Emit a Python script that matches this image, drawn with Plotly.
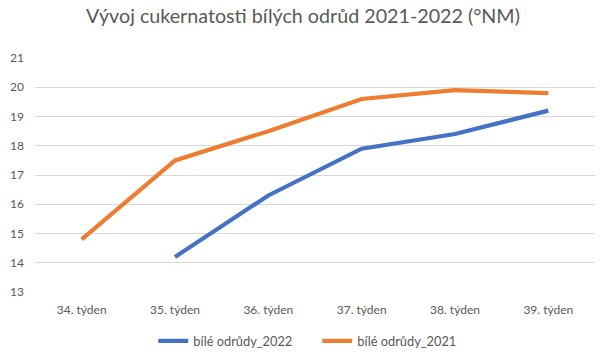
import plotly.graph_objects as go

categories = ["34. týden", "35. týden", "36. týden", "37. týden", "38. týden", "39. týden"]
values_2022 = [None, 14.2, 16.3, 17.9, 18.4, 19.2]
values_2021 = [14.8, 17.5, 18.5, 19.6, 19.9, 19.8]
series_names = ["bílé odrůdy_2022", "bílé odrůdy_2021"]

FONT = "Lato"
GREY = "#595959"

fig = go.Figure()
fig.add_trace(go.Scatter(x=categories, y=values_2022, mode="lines", name=series_names[0],
                         line=dict(color="#4472C4", width=4.2), connectgaps=False))
fig.add_trace(go.Scatter(x=categories, y=values_2021, mode="lines", name=series_names[1],
                         line=dict(color="#ED7D31", width=4.2)))

fig.update_layout(
    width=606, height=363,
    margin=dict(l=35, r=11, t=58, b=71, autoexpand=False),
    paper_bgcolor="white", plot_bgcolor="white",
    font=dict(family=FONT, color=GREY, size=12),
    title=dict(text="Vývoj cukernatosti bílých odrůd 2021-2022 (°NM)",
               x=0.5, xanchor="center", y=1 - 16 / 363, yanchor="middle",
               font=dict(family=FONT, size=19.7, color=GREY)),
    showlegend=True,
    legend=dict(orientation="h", x=0.504, xanchor="center", y=-0.21, yanchor="middle",
                font=dict(family=FONT, size=12.8, color=GREY), itemwidth=30,
                entrywidth=119, entrywidthmode="pixels",
                traceorder="normal"),
    xaxis=dict(type="category", range=[-0.5, 5.5], showgrid=False, showline=False,
               ticks="", ticklabelstandoff=9, tickfont=dict(size=12, color=GREY)),
    yaxis=dict(range=[13, 21], dtick=1, showgrid=True, gridcolor="#D9D9D9", gridwidth=1,
               zeroline=False, showline=False, ticks="", ticklabelstandoff=10,
               tickfont=dict(size=12, color=GREY)),
)

fig.write_html("out.html", config={"displayModeBar": False},
               post_script="document.body.style.margin='0';")
